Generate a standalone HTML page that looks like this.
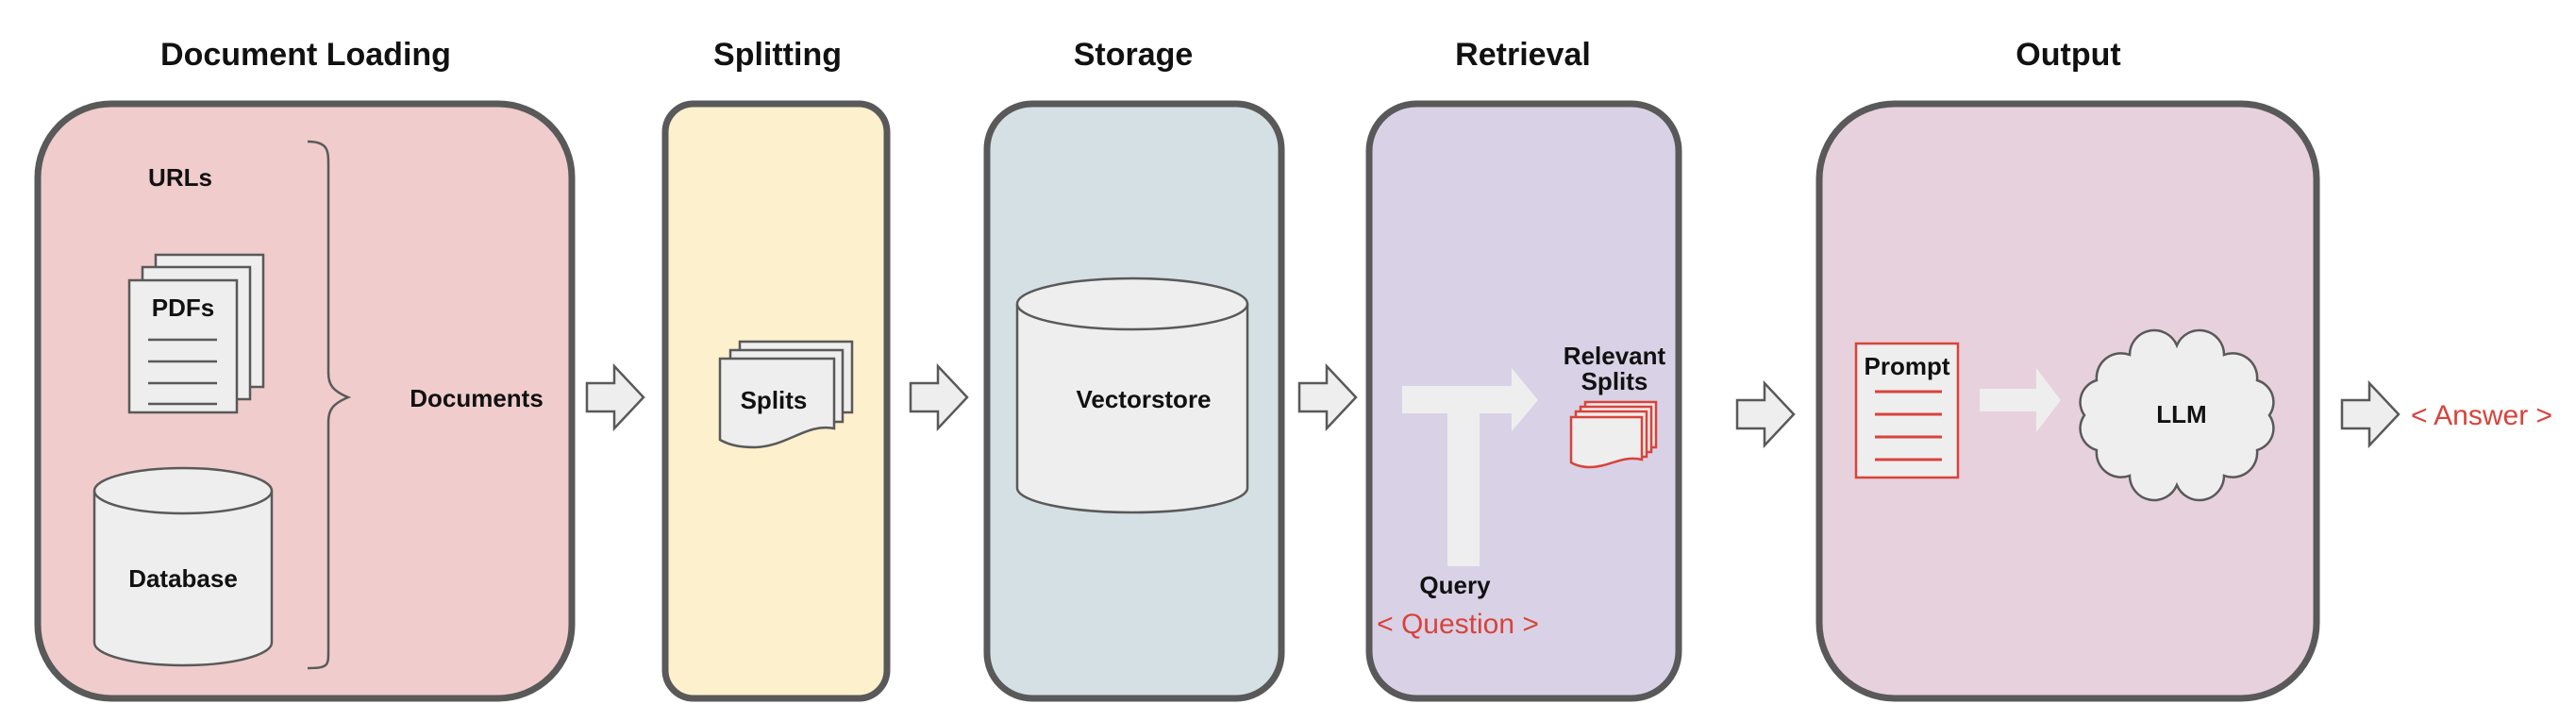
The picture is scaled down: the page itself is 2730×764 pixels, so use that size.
<!DOCTYPE html>
<html><head><meta charset="utf-8"><style>
html,body{margin:0;padding:0;background:#fff;}
svg{display:block;}
text{font-family:"Liberation Sans",Arial,sans-serif;}
.t{font-size:34px;font-weight:bold;fill:#111;text-anchor:middle;}
.l{font-size:26px;font-weight:bold;fill:#111;text-anchor:middle;}
.r{font-size:30px;fill:#d8433b;text-anchor:middle;}
.shape{fill:#eeeeee;stroke:#595959;stroke-width:2.5;}
.box{stroke:#595959;stroke-width:7;}
</style></head><body>
<svg width="2730" height="764" viewBox="0 0 2730 764" xmlns="http://www.w3.org/2000/svg">
<!-- titles -->
<text class="t" x="324" y="69">Document Loading</text>
<text class="t" x="824" y="69">Splitting</text>
<text class="t" x="1201" y="69">Storage</text>
<text class="t" x="1614" y="69">Retrieval</text>
<text class="t" x="2192" y="69">Output</text>

<!-- boxes -->
<rect class="box" x="40" y="110" width="566" height="630" rx="78" fill="#f0cccc"/>
<rect class="box" x="705" y="110" width="235" height="630" rx="30" fill="#fdf0cd"/>
<rect class="box" x="1046" y="110" width="312" height="630" rx="48" fill="#d5e0e4"/>
<rect class="box" x="1451" y="110" width="328" height="630" rx="50" fill="#d9d2e6"/>
<rect class="box" x="1928" y="110" width="527" height="630" rx="80" fill="#e7d1dc"/>

<!-- Box1 contents -->
<text class="l" x="191" y="197">URLs</text>
<rect class="shape" x="165" y="270" width="114" height="140"/>
<rect class="shape" x="151" y="283" width="114" height="140"/>
<rect class="shape" x="137" y="297" width="114" height="140"/>
<text class="l" x="194" y="335">PDFs</text>
<g stroke="#595959" stroke-width="2.5">
<line x1="157" y1="360" x2="230" y2="360"/>
<line x1="157" y1="383" x2="230" y2="383"/>
<line x1="157" y1="406" x2="230" y2="406"/>
<line x1="157" y1="428" x2="230" y2="428"/>
</g>
<path class="shape" d="M100,520 V681 A94,24 0 0 0 288,681 V520"/>
<ellipse class="shape" cx="194" cy="520" rx="94" ry="24" fill="#f4f4f4"/>
<text class="l" x="194" y="622">Database</text>
<path d="M326,150 C348,150 348,160 348,175 V395 C348,407 352,414 369,421 C352,428 348,435 348,447 V690 C348,705 348,708 326,708" fill="none" stroke="#595959" stroke-width="2.5"/>
<text class="l" x="505" y="431">Documents</text>

<!-- arrows -->
<g class="shape">
<polygon points="622,406 651,406 651,388 682,421 651,454 651,436 622,436"/>
<polygon points="965,406 994,406 994,388 1025,421 994,454 994,436 965,436"/>
<polygon points="1377,406 1406,406 1406,388 1437,421 1406,454 1406,436 1377,436"/>
<polygon points="1841,424 1870,424 1870,406 1901,439 1870,472 1870,454 1841,454"/>
<polygon points="2482,424 2511,424 2511,406 2542,439 2511,472 2511,454 2482,454"/>
</g>

<!-- Splits icon -->
<path class="shape" d="M784,362 H903 V437 H784 Z"/>
<path class="shape" d="M774,371 H893 V447 H774 Z"/>
<path class="shape" d="M763,380 H884 V454 C855,448 835,473 800,474 C780,474 770,470 763,466 Z"/>
<text class="l" x="820" y="433">Splits</text>

<!-- Vectorstore -->
<path class="shape" d="M1078,322 V517 A122,26 0 0 0 1322,517 V322"/>
<ellipse class="shape" cx="1200" cy="322" rx="122" ry="27" fill="#f4f4f4"/>
<text class="l" x="1212" y="432">Vectorstore</text>

<!-- Retrieval T arrow -->
<path d="M1486,409 H1602 V390 L1630,424 L1602,457 V438 H1568 V600 H1534 V438 H1486 Z" fill="#eeeeee"/>
<text class="l" x="1542" y="629">Query</text>
<text class="r" x="1545" y="671">&lt; Question &gt;</text>
<text class="l" x="1711" y="386">Relevant</text>
<text class="l" x="1711" y="413">Splits</text>
<g fill="#eeeeee" stroke="#d8433b" stroke-width="2.5">
<rect x="1680" y="426" width="75" height="48"/>
<rect x="1675" y="431" width="75" height="48"/>
<rect x="1670" y="436" width="75" height="48"/>
<path d="M1665,442 H1740 V487 C1720,482 1705,495 1685,495 C1675,495 1668,492 1665,490 Z"/>
</g>

<!-- Output -->
<rect x="1967" y="364" width="108" height="142" fill="#eeeeee" stroke="#d8433b" stroke-width="2.5"/>
<text class="l" x="2021" y="397">Prompt</text>
<g stroke="#d8433b" stroke-width="3">
<line x1="1987" y1="415" x2="2058" y2="415"/>
<line x1="1987" y1="439" x2="2058" y2="439"/>
<line x1="1987" y1="463" x2="2058" y2="463"/>
<line x1="1987" y1="487" x2="2058" y2="487"/>
</g>
<polygon points="2098,412 2158,412 2158,390 2184,424 2158,458 2158,436 2098,436" fill="#eeeeee"/>
<path class="shape" d="M2405,440 A24,24 0 0 0 2392,403 A26,26 0 0 0 2357,376 A26,26 0 0 0 2307,366 A26,26 0 0 0 2257,376 A26,26 0 0 0 2222,403 A24,24 0 0 0 2209,440 A24,24 0 0 0 2222,477 A26,26 0 0 0 2257,504 A26,26 0 0 0 2307,514 A26,26 0 0 0 2357,504 A26,26 0 0 0 2392,477 A24,24 0 0 0 2405,440 Z"/>
<text class="l" x="2312" y="448">LLM</text>
<text class="r" x="2630" y="450">&lt; Answer &gt;</text>
</svg>
</body></html>
